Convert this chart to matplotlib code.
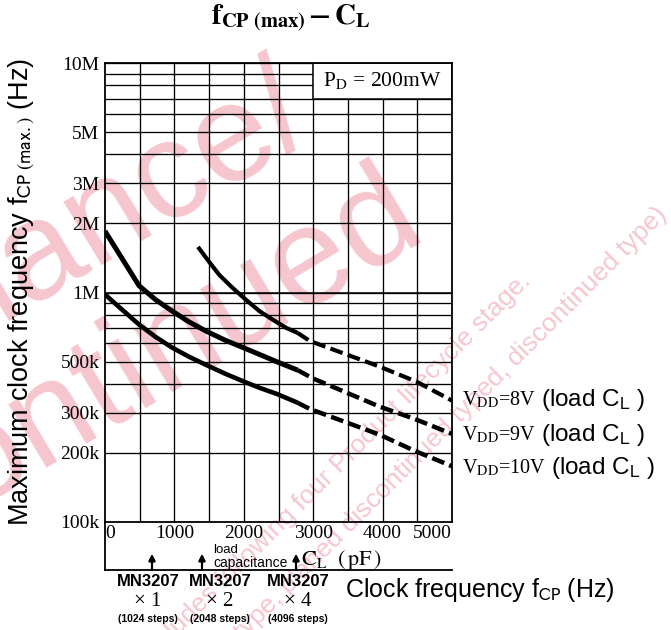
import matplotlib.pyplot as plt
from matplotlib.lines import Line2D
from matplotlib.patches import Rectangle

W, H = 671, 630

# load capacitance CL (pF) vs maximum clock frequency (Hz)
cl_8v = [1340, 1500, 1650, 1835, 2030, 2225, 2420, 2616, 2775]
f_8v = [1.58e6, 1.36e6, 1.19e6, 1.05e6, 930e3, 830e3, 760e3, 700e3, 667e3]
cl_8v_ext = [2775, 2950, 3960, 4494, 5000]
f_8v_ext = [667e3, 615e3, 475e3, 408e3, 338e3]

cl_9v = [0, 250, 491, 730, 968, 1210, 1460, 1730, 2010, 2240, 2470, 2775]
f_9v = [1.85e6, 1.40e6, 1.07e6, 930e3, 830e3, 745e3, 678e3, 620e3, 572e3, 535e3, 500e3, 459e3]
cl_9v_ext = [2775, 2990, 3960, 4465, 5000]
f_9v_ext = [459e3, 423e3, 318e3, 281e3, 242e3]

cl_10v = [0, 250, 491, 730, 968, 1210, 1460, 1730, 2010, 2240, 2470, 2775]
f_10v = [980e3, 840e3, 725e3, 640e3, 575e3, 525e3, 483e3, 443e3, 408e3, 383e3, 362e3, 331e3]
cl_10v_ext = [2775, 2950, 3960, 4465, 5000]
f_10v_ext = [331e3, 311e3, 240e3, 204e3, 175e3]

x_ticks = [0, 1000, 2000, 3000, 4000, 5000]
y_ticks = [1e5, 2e5, 3e5, 5e5, 1e6, 2e6, 3e6, 5e6, 1e7]
y_labels = ['100k', '200k', '300k', '500k', '1M', '2M', '3M', '5M', '10M']

vdd_labels = ['8V', '9V', '10V']
mn_parts = ['\u00d7 1', '\u00d7 2', '\u00d7 4']
mn_steps = ['(1024 steps)', '(2048 steps)', '(4096 steps)']

SERIF = 'Liberation Serif'
SANS = 'Liberation Sans'
PINK = '#f6c6cf'


def fx(px):
    return px / W


def fy(py):
    return 1 - py / H


fig = plt.figure(figsize=(W / 100, H / 100), dpi=100)
fig.patch.set_facecolor('white')

# faint watermark from the scanned datasheet, kept behind everything
wm = dict(family=SANS, color=PINK, rotation_mode='anchor', ha='right', va='baseline', zorder=-5)
fig.text(fx(318), fy(128), 'Maintenance/', fontsize=100, rotation=31, **wm)
fig.text(fx(428), fy(232), 'Discontinued', fontsize=100, rotation=31, **wm)
fig.text(fx(532), fy(282), 'Maintenance/Discontinued includes following four Product lifecycle stage.',
         fontsize=19, rotation=45, **wm)
fig.text(fx(668), fy(216), '(planed maintenance type, maintenance type, planed discontinued typed, discontinued type)',
         fontsize=19, rotation=45, **wm)

ax = fig.add_axes([fx(105), fy(522), (452 - 105) / W, (522 - 63) / H])
ax.patch.set_alpha(0)
ax.set_yscale('log')
ax.set_xlim(0, 5000)
ax.set_ylim(1e5, 1e7)

# grid: every 500 pF, and 1..9 per decade
for x in range(500, 5000, 500):
    ax.axvline(x, color='black', lw=0.95, zorder=1)
for dec in [1e5, 1e6]:
    for m in range(2, 11):
        ax.axhline(m * dec, color='black', lw=0.95, zorder=1)
ax.axhline(1e6, color='black', lw=1.1, zorder=1)

for s in ax.spines.values():
    s.set_linewidth(1.3)

ax.add_patch(Rectangle((3000, 7e6), 2000, 3e6, facecolor='white', edgecolor='black',
                       lw=1.1, zorder=2))
ax.text(4000, 8.4e6, r'P$_{\mathrm{D}}$ = 200mW', fontsize=15.5, family=SERIF,
        math_fontfamily='stix', ha='center', va='center', zorder=3)

ax.plot(cl_8v, f_8v, color='black', lw=3.0, solid_capstyle='butt', zorder=4)
ax.plot(cl_8v_ext, f_8v_ext, color='black', lw=3.0, ls=(0, (3.1, 1.3)), zorder=4)
ax.plot(cl_9v, f_9v, color='black', lw=3.6, solid_capstyle='butt', zorder=4)
ax.plot(cl_9v_ext, f_9v_ext, color='black', lw=3.2, ls=(0, (2.9, 1.2)), zorder=4)
ax.plot(cl_10v, f_10v, color='black', lw=3.3, solid_capstyle='butt', zorder=4)
ax.plot(cl_10v_ext, f_10v_ext, color='black', lw=3.2, ls=(0, (2.9, 1.2)), zorder=4)

ax.set_xticks(x_ticks)
ax.set_xticklabels([str(v) for v in x_ticks], family=SERIF, fontsize=14)
ax.set_yticks(y_ticks)
ax.set_yticklabels(y_labels, family=SERIF, fontsize=14)
ax.minorticks_off()
ax.tick_params(axis='both', length=0)
ax.tick_params(axis='x', pad=2.5)
ax.tick_params(axis='y', pad=4)
xl = ax.get_xticklabels()
xl[0].set_ha('left')
xl[-1].set_ha('right')

# title
fig.text(fx(291), fy(18), r'$\mathbf{f}_{\mathbf{CP\ (max)}}\,\mathbf{-\,C}_{\mathbf{L}}$',
         fontsize=21, math_fontfamily='stix', ha='center', va='center')

# y axis title
fig.text(fx(22), fy(292), r'Maximum clock frequency f$_{\mathrm{CP\ (max.)}}$ (Hz)',
         family=SANS, math_fontfamily='stixsans', fontsize=19.5, rotation=90,
         ha='center', va='center')

# curve labels on the right
fig.canvas.draw()
renderer = fig.canvas.get_renderer()
for lab, py, px2 in zip(vdd_labels, [400, 435, 468], [522, 522, 527]):
    t = fig.text(fx(462), fy(py), r'V$_{\mathrm{DD}}$=' + lab, family=SERIF, fontsize=14.5,
                 math_fontfamily='stix', ha='left', va='center')
    x1 = t.get_window_extent(renderer).x1
    fig.text(fx(max(px2, x1 + 5)), fy(py), r'(load C$_{\mathrm{L}}$ )', family=SANS,
             math_fontfamily='stixsans', fontsize=17.5, ha='left', va='center')

# secondary scale under the x axis
fig.add_artist(Line2D([fx(105), fx(452)], [fy(570), fy(570)], color='black', lw=1.3))
fig.add_artist(Line2D([fx(105), fx(105)], [fy(522), fy(570)], color='black', lw=1.3))
fig.text(fx(213), fy(550), 'load', family=SANS, fontsize=9.5, ha='left', va='center')
fig.text(fx(213), fy(563), 'capacitance', family=SANS, fontsize=10, ha='left', va='center')
fig.text(fx(301), fy(560), r'$\mathrm{C_L}\ \ (\,\mathrm{pF}\,)$', fontsize=16,
         math_fontfamily='stix', ha='left', va='center')

for px, mult, steps, cx in zip([152, 202, 296], mn_parts, mn_steps, [148, 220, 298]):
    fig.add_artist(plt.annotate('', xy=(fx(px), fy(554)), xytext=(fx(px), fy(570)),
                                xycoords='figure fraction', textcoords='figure fraction',
                                arrowprops=dict(arrowstyle='-|>', lw=1.5, color='black',
                                                mutation_scale=9, shrinkA=0, shrinkB=0)))
    fig.text(fx(cx), fy(581), 'MN3207', family=SANS, fontsize=12, weight='bold',
             ha='center', va='center')
    fig.text(fx(cx), fy(601), mult, family=SERIF, fontsize=15, ha='center', va='center')
    fig.text(fx(cx), fy(619), steps, family=SANS, fontsize=7.5, weight='bold',
             ha='center', va='center')

fig.text(fx(345), fy(590), r'Clock frequency f$_{\mathrm{CP}}$ (Hz)', family=SANS,
         math_fontfamily='stixsans', fontsize=18, ha='left', va='center')

fig.savefig('out.png', dpi=100)
